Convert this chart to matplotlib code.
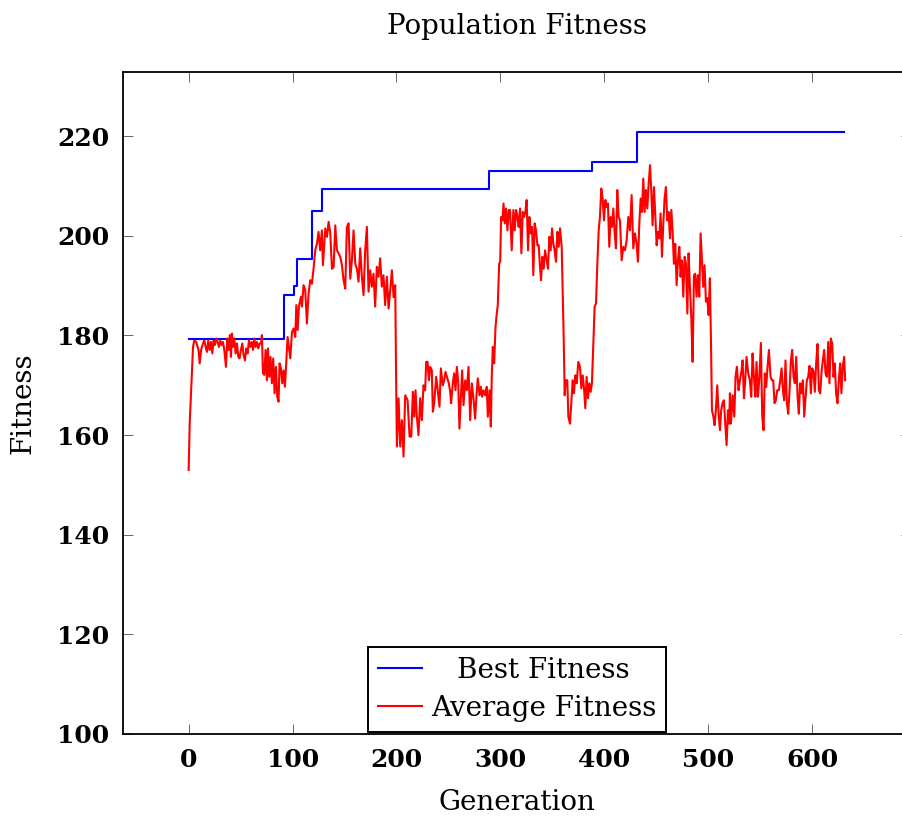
import matplotlib
matplotlib.use("Agg")
import matplotlib.pyplot as plt

# Best fitness (step function: generation where a new best appears, value)
best_gen = [0, 92, 101, 104, 119, 128, 289, 388, 431, 631]
best_fit = [179.2, 188.1, 189.9, 195.4, 205.0, 209.4, 213.0, 214.8, 220.9, 220.9]

# Average population fitness per generation
avg_gen = [
    0, 1, 4.2, 5.4, 7.3, 9.6, 10.6, 12, 13.8, 15.1, 16.3, 17.6, 18.9, 20.2, 21.5, 22.8, 24.0,
    25.3, 26.6, 27.9, 29.2, 30.4, 31.7, 33.0, 34.3, 35.9, 37.2, 38.5, 39.7, 40.7, 41.7, 42.6,
    43.9, 45.2, 46.5, 47.8, 49.0, 50.3, 51.6, 52.9, 54.2, 55.4, 56.7, 58.0, 59.3, 60.6, 61.9,
    63.1, 64.4, 65.7, 67.0, 68.3, 69.6, 70.5, 71.5, 72.8, 74.0, 75.3, 76.3, 77.6, 78.8, 80.1,
    81.4, 82.7, 84.0, 85.3, 86.5, 87.5, 88.8, 90.1, 91.3, 92.6, 93.9, 95.2,
    97.8, 99.4, 101.0, 102.6, 103.6, 104.9, 106.1, 108.1, 109.0, 110.6, 112.2, 113.8, 115.4,
    117.0, 118.6, 120.2, 121.8, 123.4, 125.0, 126.6, 128.2, 129.2, 131.5, 133.1, 134.7, 136.3,
    137.9, 139.5, 141.1, 142.7, 144.3, 145.9, 147.5, 149.1, 150.7, 152.3, 153.9, 155.5, 157.1,
    158.7, 160.3, 161.9, 163.5, 165.1, 166.7, 168.3, 169.9, 171.5, 173.1, 174.7, 176.3, 177.9,
    179.5, 181.1, 182.7, 184.3, 185.9, 187.5, 189.1, 190.8, 192.4, 194.0, 195.6, 197.2, 198.8,
    199.7, 200.4, 202.0, 203.6, 205.2, 206.8,
    208.4, 210.7, 212.6, 214.2, 215.8, 217.1, 218.3, 219.6, 221.2, 222.8, 224.4, 226.0, 227.6,
    228.6, 229.9, 231.2, 232.4, 234.0, 235.0, 236.3, 238.2, 239.5, 241.4, 242.7, 244.6, 245.9,
    247.2, 248.5, 250.4, 251.7, 252.6, 254.2, 255.5, 256.8, 258.1, 259.4, 260.6, 262.3, 263.2,
    264.5, 266.1, 267.7, 269.3, 270.9, 272.5, 274.1, 275.7, 277.3, 278.3, 279.9, 281.2, 282.4,
    283.7, 285.3, 286.9, 287.9, 289.5, 290.8, 291.7, 292.7, 294.0, 295.3, 296.5, 297.5, 298.8,
    299.8, 300.7, 302.0, 303.0, 304.2, 305.5, 306.8, 308.1,
    309.3, 310.9, 312.5, 313.8, 315.1, 316.4, 317.6, 318.9, 320.2, 321.5, 322.8, 324.0, 325.3,
    326.6, 327.9, 329.2, 330.5, 331.7, 333.0, 334.3, 335.6, 336.9, 338.1, 339.1, 340.4, 341.7,
    343.0, 344.6, 345.8, 347.1, 348.4, 349.7, 351.0, 352.2, 353.5, 354.8, 356.1, 357.4, 359.0,
    359.9, 360.9, 361.9, 362.8, 364.4, 365.4, 367.0, 368.6, 369.6, 370.8, 372.1, 373.4, 375.0,
    376.6, 377.9, 379.2, 380.5, 381.7, 383.0, 384.3, 385.6, 386.9, 388.1, 389.4, 390.7, 392.0,
    393.3, 394.6, 395.8, 397.1, 398.4, 399.7, 401.0, 402.2, 403.5, 404.8, 406.1, 407.4, 408.7,
    409.9, 411.2, 412.5, 413.8, 415.1,
    416.7, 418.3, 419.9, 421.5, 423.1, 424.7, 426.3, 427.9, 429.5, 431.1, 432.4, 433.7, 435.0,
    436.3, 437.5, 438.8, 440.1, 441.4, 442.7, 444.0, 445.2, 446.5, 447.8, 449.1, 450.4, 451.6,
    452.9, 454.2, 455.5, 456.8, 458.0, 459.3, 460.6, 461.9, 463.2, 464.5, 465.7, 467.0, 468.3,
    469.6, 470.9, 472.2, 473.4, 474.7, 476.0, 477.3, 478.6, 479.9, 481.1, 482.4, 483.7, 485.0,
    486.3, 487.5, 488.8, 490.1, 491.4, 492.7, 494.0, 495.2, 496.5, 497.8, 499.1, 500.4, 501.6,
    502.6, 503.6, 505.0, 506.1, 507.4, 508.7, 510.0, 511.3, 512.5, 513.8, 515.1, 516.4, 517.7,
    519.0, 520.2,
    520.9, 521.9, 523.5, 525.1, 526.3, 527.6, 529.2, 530.5, 532.1, 533.1, 534.4, 535.6, 536.9,
    538.5, 540.1, 541.4, 542.7, 544.0, 545.3, 546.5, 547.8, 549.1, 550.7, 552.0, 553.3, 554.5,
    555.8, 557.1, 558.4, 560.0, 561.3, 562.6, 563.8, 565.1, 566.4, 568.0, 569.3, 570.6, 571.9,
    573.1, 574.4, 575.7, 577.0, 578.3, 579.6, 580.8, 582.1, 583.4, 584.7, 586.0, 587.2, 588.5,
    589.8, 591.1, 592.4, 593.7, 594.9, 596.2, 597.5, 598.8, 600.1, 601.4, 602.6, 603.9, 605.2,
    606.5, 607.8, 609.1, 610.3, 611.6, 612.9, 614.2, 615.5, 616.7, 618.0, 619.3, 620.6, 621.8,
    623.1, 624.4, 625.7, 627.0, 628.2, 629.5, 630.8, 631.8,
]
avg_fit = [
    153.0, 162.3, 177.7, 179.0, 178.7, 177.0, 174.4, 177.1, 178.4, 179.0, 177.7, 176.7, 179.0,
    177.1, 178.7, 176.4, 179.0, 178.1, 179.4, 178.7, 177.7, 179.0, 178.1, 178.7, 177.1, 173.7,
    179.4, 177.1, 180.1, 175.7, 180.4, 177.7, 179.4, 176.4, 178.4, 175.7, 175.4, 177.1, 178.4,
    176.0, 175.0, 177.4, 176.4, 179.0, 177.7, 178.7, 177.1, 179.4, 177.7, 178.7, 177.4, 178.4,
    178.4, 180.1, 172.4, 172.1, 177.1, 171.0, 177.4, 171.7, 175.7, 170.4, 175.4, 168.4, 173.7,
    167.7, 166.7, 174.4, 173.4, 170.4, 173.0, 169.7, 174.4, 179.7,
    175.4, 180.7, 181.4, 179.7, 186.1, 181.1, 185.8, 187.8, 185.8, 190.1, 189.1, 182.4, 188.4,
    191.1, 190.4, 193.4, 197.1, 198.4, 200.8, 197.1, 201.1, 194.1, 201.5, 199.8, 202.8, 200.5,
    193.4, 193.7, 202.1, 197.1, 196.5, 195.8, 194.1, 191.1, 189.4, 201.8, 202.5, 191.4, 195.1,
    201.1, 194.4, 193.4, 190.8, 197.5, 191.8, 188.1, 197.1, 201.8, 188.8, 193.1, 189.8, 192.4,
    185.8, 193.8, 191.8, 195.5, 189.8, 192.1, 186.1, 191.8, 185.4, 189.1, 193.1, 187.7, 190.1,
    170.4, 157.7, 167.4, 157.7, 163.0, 155.7,
    168.0, 167.0, 159.7, 159.7, 168.7, 163.7, 169.0, 163.7, 160.0, 167.4, 163.0, 170.0, 169.0,
    174.7, 174.7, 171.0, 173.7, 173.0, 164.7, 166.4, 171.7, 169.4, 165.7, 173.4, 170.0, 171.0,
    172.7, 171.7, 170.4, 168.7, 166.4, 170.4, 172.4, 169.0, 173.7, 170.7, 161.3, 168.7, 173.0,
    166.0, 171.0, 169.0, 173.7, 163.0, 170.4, 167.4, 163.3, 169.0, 171.4, 168.0, 169.7, 167.7,
    169.0, 168.0, 169.7, 163.7, 169.0, 161.7, 171.7, 177.7, 174.4, 181.7, 184.4, 186.1, 194.4,
    194.8, 203.8, 203.1, 206.5, 202.5, 205.5, 201.1, 205.2,
    205.2, 197.1, 205.2, 201.1, 205.2, 203.8, 201.8, 205.5, 196.5, 204.8, 203.8, 204.8, 207.2,
    197.1, 203.8, 200.5, 201.8, 192.1, 202.5, 201.1, 198.1, 198.1, 193.8, 191.1, 195.8, 193.4,
    197.1, 195.1, 193.4, 199.8, 197.1, 201.5, 198.4, 197.1, 194.8, 200.8, 197.8, 201.5, 197.8,
    189.1, 179.7, 168.0, 171.0, 171.0, 163.7, 162.3, 167.7, 171.0, 168.4, 172.0, 170.4, 174.7,
    173.7, 169.4, 172.0, 169.4, 165.4, 171.7, 167.4, 170.4, 168.7, 170.4, 178.4, 185.8, 186.4,
    194.4, 201.1, 203.8, 209.5, 207.5, 203.1, 207.2, 205.8, 206.5, 197.8, 203.8, 201.8, 205.5,
    200.8, 197.5, 209.2, 203.8, 203.1,
    195.1, 197.8, 197.1, 199.1, 203.8, 201.1, 208.2, 197.5, 200.5, 198.4, 194.8, 202.5, 207.5,
    204.8, 211.5, 204.8, 209.2, 205.5, 210.5, 214.2, 209.2, 202.1, 209.8, 203.8, 198.1, 200.8,
    199.5, 204.5, 195.8, 202.5, 207.5, 209.8, 203.1, 204.8, 199.5, 205.2, 201.1, 194.4, 198.4,
    190.1, 195.1, 197.8, 191.8, 195.1, 187.8, 195.8, 194.4, 184.4, 196.5, 189.8, 183.7, 174.7,
    192.1, 192.4, 187.8, 192.1, 187.8, 200.5, 195.1, 189.8, 194.1, 186.8, 187.5, 184.1, 191.5,
    179.7, 165.0, 163.7, 162.0, 165.0, 170.0, 164.3, 161.0, 165.0, 166.4, 167.0, 162.3, 158.0,
    165.0, 162.3,
    168.4, 162.3, 168.0, 163.7, 171.7, 173.7, 169.0, 171.0, 173.0, 175.0, 167.4, 171.0, 175.7,
    172.4, 171.0, 167.7, 176.4, 171.7, 167.7, 174.7, 167.7, 171.0, 178.5, 163.7, 161.0, 172.4,
    169.7, 173.7, 177.1, 171.7, 171.0, 171.0, 166.4, 167.0, 169.0, 169.0, 171.0, 173.4, 169.0,
    167.0, 175.0, 166.4, 164.3, 169.0, 175.0, 177.1, 171.7, 170.4, 175.7, 167.7, 164.3, 170.4,
    168.4, 171.0, 163.7, 167.4, 171.0, 171.7, 173.9, 168.4, 173.4, 172.7, 168.7, 174.4, 178.3,
    169.0, 168.4, 172.7, 175.0, 177.1, 172.4, 171.7, 178.7, 170.4, 179.4, 178.4, 171.7, 174.4,
    168.4, 166.4, 171.0, 174.4, 168.4, 173.7, 175.7, 171.0,
]

x_ticks = [0, 100, 200, 300, 400, 500, 600]
y_ticks = [100, 120, 140, 160, 180, 200, 220]

plt.rcParams["font.family"] = ["DejaVu Serif"]

fig = plt.figure(figsize=(9.03, 8.17), dpi=100)
ax = fig.add_axes([0.1362, 0.1016, 0.8727, 0.8103])

ax.plot(best_gen, best_fit, color="#0000ff", lw=1.5, drawstyle="steps-post",
        label="Best Fitness")
ax.plot(avg_gen, avg_fit, color="#ff0000", lw=1.5, label="Average Fitness")

ax.set_xlim(-63.2, 695.2)
ax.set_ylim(100, 232.9)
ax.set_xticks(x_ticks)
ax.set_yticks(y_ticks)
ax.tick_params(direction="in", length=7, width=0.7, color="#666666",
               top=True, right=True, labelsize=18, pad=10)
for lab in ax.get_xticklabels() + ax.get_yticklabels():
    lab.set_fontweight("bold")
for sp in ax.spines.values():
    sp.set_linewidth(1.3)
# the right border lies beyond the canvas edge
ax.spines["right"].set_visible(False)

ax.set_title("Population Fitness", fontsize=20, pad=27)
ax.set_xlabel("Generation", fontsize=20, labelpad=12)
ax.set_ylabel("Fitness", fontsize=20, labelpad=15)

leg = ax.legend(loc="lower center", fontsize=20, frameon=True, fancybox=False,
                edgecolor="black", framealpha=1, borderaxespad=0.08,
                handlelength=1.6, handletextpad=0.3, borderpad=0.35,
                labelspacing=0.4)
leg.get_frame().set_linewidth(1.4)

# centre the shorter entry in its column, like the longer one
fig.canvas.draw()
renderer = fig.canvas.get_renderer()
w_best = leg.texts[0].get_window_extent(renderer).width
w_avg = leg.texts[1].get_window_extent(renderer).width
leg.texts[0].set_x((w_avg - w_best) / 2)

fig.savefig("out.png", dpi=100)
